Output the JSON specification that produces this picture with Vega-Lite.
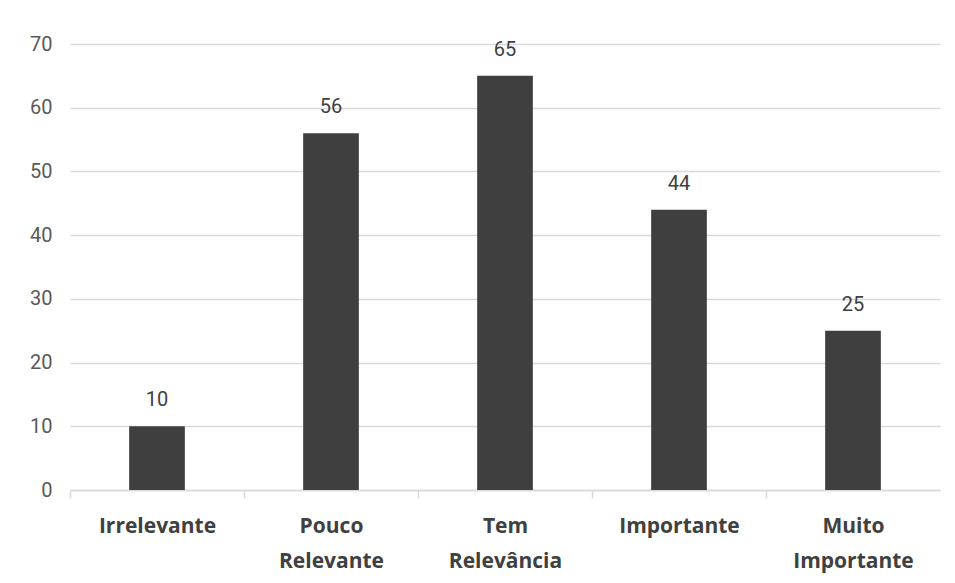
{
  "$schema": "https://vega.github.io/schema/vega-lite/v6.json",
  "width": 870,
  "height": 446,
  "autosize": {"type": "none"},
  "padding": {"left": 70, "top": 44, "right": 15, "bottom": 93},
  "background": "white",
  "config": {
    "view": {"stroke": null},
    "font": "Roboto"
  },
  "data": {
    "values": [
      {"categoria": "Irrelevante", "valor": 10},
      {"categoria": "Pouco Relevante", "valor": 56},
      {"categoria": "Tem Relevância", "valor": 65},
      {"categoria": "Importante", "valor": 44},
      {"categoria": "Muito Importante", "valor": 25}
    ]
  },
  "encoding": {
    "x": {
      "field": "categoria",
      "type": "nominal",
      "sort": null,
      "scale": {"paddingInner": 0.68, "paddingOuter": 0.34},
      "axis": {
        "title": null,
        "labelAngle": 0,
        "labelExpr": "split(datum.label, ' ')",
        "labelFont": "Open Sans",
        "labelFontWeight": "bold",
        "labelFontSize": 21,
        "labelColor": "#404040",
        "labelLineHeight": 35,
        "labelPadding": 17,
        "labelOffset": 87,
        "domainColor": "#d9d9d9",
        "domainWidth": 1.5,
        "tickColor": "#d9d9d9",
        "tickWidth": 1.5,
        "tickSize": 8,
        "tickOffset": -87,
        "grid": false
      }
    },
    "y": {
      "field": "valor",
      "type": "quantitative",
      "scale": {"domain": [0, 70]},
      "axis": {
        "title": null,
        "values": [0, 10, 20, 30, 40, 50, 60, 70],
        "labelFont": "Roboto",
        "labelFontSize": 20,
        "labelColor": "#595959",
        "labelPadding": 18,
        "domain": false,
        "ticks": false,
        "gridColor": "#d9d9d9",
        "gridWidth": 1.5
      }
    }
  },
  "layer": [
    {"mark": {"type": "bar", "color": "#3f3f3f"}},
    {
      "mark": {
        "type": "text",
        "baseline": "bottom",
        "dy": -16,
        "font": "Roboto",
        "fontSize": 20,
        "color": "#404040"
      },
      "encoding": {"text": {"field": "valor", "type": "quantitative"}}
    }
  ]
}
